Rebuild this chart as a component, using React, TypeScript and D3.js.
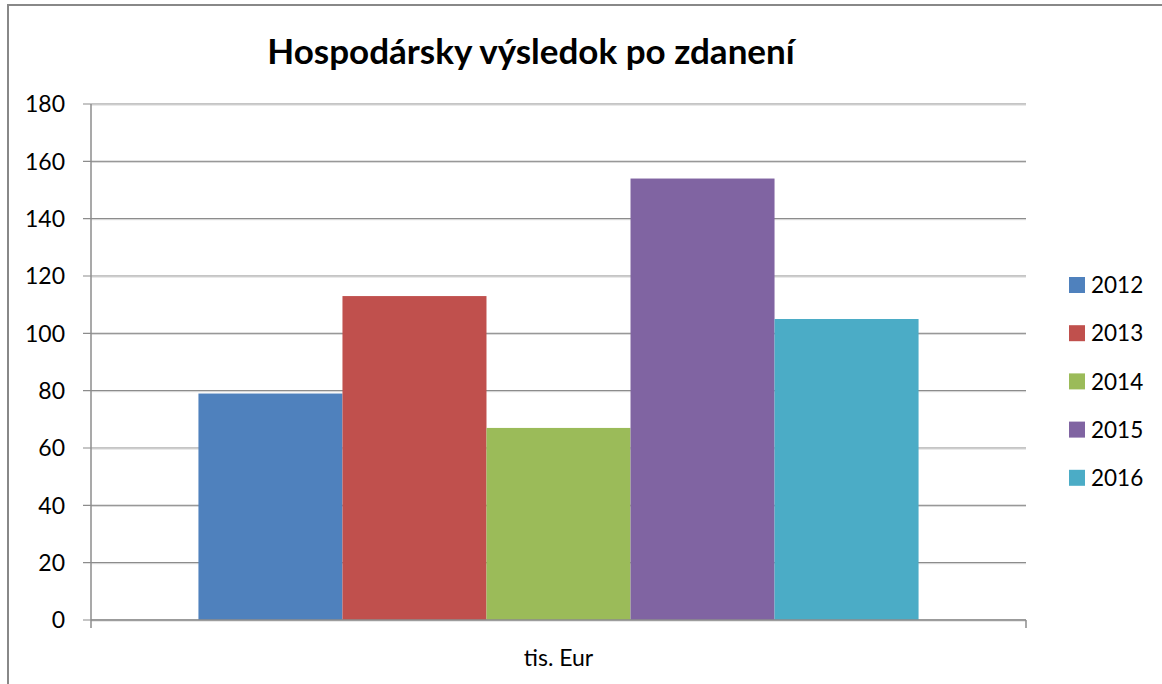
import React from 'react';
import * as d3 from 'd3';

const title = 'Hospodársky výsledok po zdanení';
const categories = ['tis. Eur'];
const years = ['2012', '2013', '2014', '2015', '2016'];
const values = [79, 113, 67, 154, 105];
const colors = ['#4F81BD', '#C0504D', '#9BBB59', '#8064A2', '#4BACC6'];
const yTicks = [0, 20, 40, 60, 80, 100, 120, 140, 160, 180];

const W = 1162;
const H = 684;
const margin = { top: 104, right: 136, bottom: 64, left: 91 };
const font = 'Lato, "Open Sans", sans-serif';

export default function App() {
  const width = W - margin.left - margin.right;
  const height = H - margin.top - margin.bottom;

  const x0 = d3.scaleBand().domain(categories).range([0, width]);
  const x1 = d3
    .scaleBand()
    .domain(years)
    .range([0, x0.bandwidth()])
    .paddingInner(0)
    .paddingOuter(0.746);
  const y = d3.scaleLinear().domain([0, 180]).range([height, 0]);

  return (
    <svg
      width={W}
      height={H}
      style={{ position: 'absolute', left: 0, top: 0, background: '#fff' }}
    >
      <rect x={8} y={5} width={W} height={H} fill="#fff" stroke="#888" strokeWidth={2} />
      <text
        x={531}
        y={64}
        textAnchor="middle"
        fontFamily={font}
        fontWeight="bold"
        fontSize={35}
        fill="#000"
      >
        {title}
      </text>
      <g transform={`translate(${margin.left},${margin.top})`}>
        {yTicks.map((t) => (
          <g key={t}>
            <line x1={-8} x2={width} y1={y(t)} y2={y(t)} stroke="#8c8c8c" strokeWidth={1.2} />
            <line x1={0} x2={width} y1={y(t) + 1} y2={y(t) + 1} stroke="#d4d4d4" strokeWidth={1} />
            <text
              x={-26}
              y={y(t)}
              dy="0.36em"
              textAnchor="end"
              fontFamily={font}
              fontSize={23}
              fill="#000"
            >
              {t}
            </text>
          </g>
        ))}
        {categories.map((c) => (
          <g key={c} transform={`translate(${x0(c)},0)`}>
            {years.map((yr, i) => (
              <rect
                key={yr}
                x={x1(yr)}
                y={y(values[i])}
                width={x1.bandwidth()}
                height={height - y(values[i])}
                fill={colors[i]}
              />
            ))}
            <text
              x={x0.bandwidth() / 2}
              y={height + 46}
              textAnchor="middle"
              fontFamily={font}
              fontSize={23}
              fill="#000"
            >
              {c}
            </text>
          </g>
        ))}
        <line x1={0} x2={0} y1={0} y2={height + 8} stroke="#8c8c8c" strokeWidth={1.5} />
        <line x1={width} x2={width} y1={height} y2={height + 8} stroke="#8c8c8c" strokeWidth={1.5} />
        <line x1={0} x2={width} y1={height} y2={height} stroke="#8c8c8c" strokeWidth={1.5} />
      </g>
      <g transform="translate(1069,277)">
        {years.map((yr, i) => (
          <g key={yr} transform={`translate(0,${i * 48.2})`}>
            <rect x={0} y={0} width={16} height={16} fill={colors[i]} />
            <text x={22} y={8} dy="0.36em" fontFamily={font} fontSize={22.5} fill="#000">
              {yr}
            </text>
          </g>
        ))}
      </g>
    </svg>
  );
}
